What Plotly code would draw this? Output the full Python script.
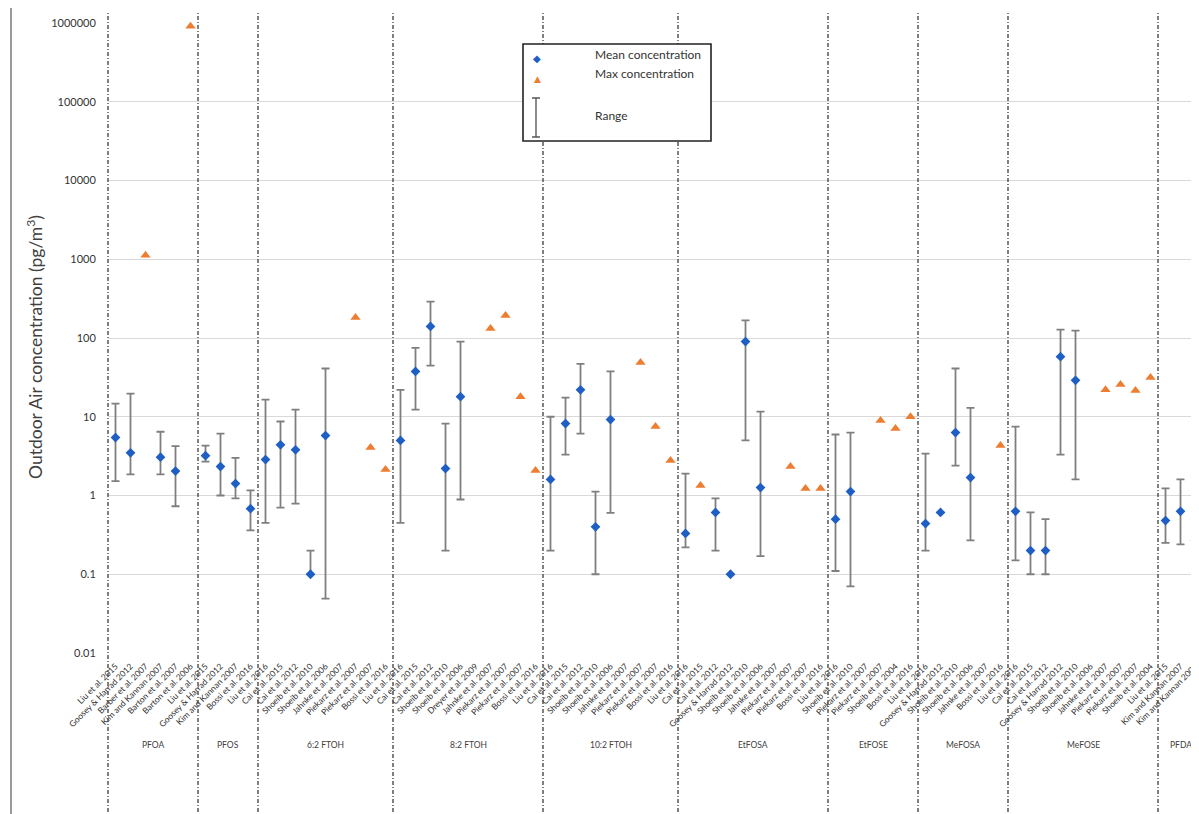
import plotly.graph_objects as go

# ---------------- data ----------------
group_names = ["PFOA", "PFOS", "6:2 FTOH", "8:2 FTOH", "10:2 FTOH",
               "EtFOSA", "EtFOSE", "MeFOSA", "MeFOSE", "PFDA"]
group_sizes = [6, 4, 9, 10, 9, 10, 6, 6, 10, 3]

study_labels = [
    # PFOA
    "Liu et al. 2015", "Goosey & Harrad 2012", "Barber et al. 2007", "Kim and Kannan 2007",
    "Barton et al. 2007", "Barton et al. 2006",
    # PFOS
    "Liu et al. 2015", "Goosey & Harrad 2012", "Kim and Kannan 2007", "Bossi et al. 2016",
    # 6:2 FTOH
    "Liu et al. 2016", "Cai et al. 2015", "Cai et al. 2012", "Shoeib et al. 2010", "Shoeib et al. 2006",
    "Jahnke et al. 2007", "Piekarz et al. 2007", "Piekarz et al. 2007", "Bossi et al. 2016",
    # 8:2 FTOH
    "Liu et al. 2016", "Cai et al. 2015", "Cai et al. 2012", "Shoeib et al. 2010", "Shoeib et al. 2006",
    "Dreyer et al. 2009", "Jahnke et al. 2007", "Piekarz et al. 2007", "Piekarz et al. 2007", "Bossi et al. 2016",
    # 10:2 FTOH
    "Liu et al. 2016", "Cai et al. 2015", "Cai et al. 2012", "Shoeib et al. 2010", "Shoeib et al. 2006",
    "Jahnke et al. 2007", "Piekarz et al. 2007", "Piekarz et al. 2007", "Bossi et al. 2016",
    # EtFOSA
    "Liu et al. 2016", "Cai et al. 2015", "Cai et al. 2012", "Goosey & Harrad 2012", "Shoeib et al. 2010",
    "Shoeib et al. 2006", "Jahnke et al. 2007", "Piekarz et al. 2007", "Piekarz et al. 2007", "Bossi et al. 2016",
    # EtFOSE
    "Liu et al. 2016", "Shoeib et al. 2010", "Piekarz et al. 2007", "Piekarz et al. 2007",
    "Shoeib et al. 2004", "Bossi et al. 2016",
    # MeFOSA
    "Liu et al. 2016", "Goosey & Harrad 2012", "Shoeib et al. 2010", "Shoeib et al. 2006",
    "Jahnke et al. 2007", "Bossi et al. 2016",
    # MeFOSE
    "Liu et al. 2016", "Cai et al. 2015", "Cai et al. 2012", "Goosey & Harrad 2012", "Shoeib et al. 2010",
    "Shoeib et al. 2006", "Jahnke et al. 2007", "Piekarz et al. 2007", "Piekarz et al. 2007", "Shoeib et al. 2004",
    # PFDA
    "Liu et al. 2015", "Kim and Kannan 2007", "Kim and Kannan 2007",
]

N = None
mean_conc = [
    5.45, 3.48, N, 3.07, 2.04, N,                      # PFOA
    3.2, 2.33, 1.42, 0.68,                             # PFOS
    2.86, 4.4, 3.8, 0.1, 5.77, N, N, N, N,             # 6:2 FTOH
    5.0, 37.6, 140, 2.2, 18, N, N, N, N, N,            # 8:2 FTOH
    1.6, 8.2, 22, 0.4, 9.2, N, N, N, N,                # 10:2 FTOH
    0.33, N, 0.61, 0.1, 90, 1.26, N, N, N, N,          # EtFOSA
    0.5, 1.12, N, N, N, N,                             # EtFOSE
    0.44, 0.61, 6.3, 1.69, N, N,                       # MeFOSA
    0.63, 0.2, 0.2, 58, 29, N, N, N, N, N,             # MeFOSE
    0.48, 0.63, 0.27,                                  # PFDA
]
range_low = [
    1.52, 1.85, N, 1.85, 0.73, N,
    2.7, 1.0, 0.92, 0.36,
    0.45, 0.70, 0.79, 0.1, 0.049, N, N, N, N,
    0.45, 12.3, 44.6, 0.2, 0.89, N, N, N, N, N,
    0.2, 3.3, 6.1, 0.1, 0.6, N, N, N, N,
    0.22, N, 0.2, N, 5.0, 0.17, N, N, N, N,
    0.11, 0.07, N, N, N, N,
    0.2, N, 2.4, 0.27, N, N,
    0.15, 0.1, 0.1, 3.3, 1.6, N, N, N, N, N,
    0.25, 0.24, 0.13,
]
range_high = [
    14.7, 19.7, N, 6.45, 4.23, N,
    4.3, 6.1, 3.0, 1.16,
    16.5, 8.7, 12.3, 0.2, 41, N, N, N, N,
    22, 75, 290, 8.2, 90, N, N, N, N, N,
    10, 17.5, 47, 1.12, 37.6, N, N, N, N,
    1.9, N, 0.92, N, 167, 11.6, N, N, N, N,
    5.95, 6.3, N, N, N, N,
    3.4, N, 41, 13, N, N,
    7.5, 0.61, 0.5, 128, 124, N, N, N, N, N,
    1.23, 1.6, 0.51,
]
max_conc = [
    N, N, 1120, N, N, 910000,
    N, N, N, N,
    N, N, N, N, N, N, 182, 4.06, 2.14,
    N, N, N, N, N, N, 132, 193, 18, 2.08,
    N, N, N, N, N, N, 49, 7.5, 2.78,
    N, 1.34, N, N, N, N, N, 2.33, 1.23, 1.23,
    N, N, N, 8.95, 7.1, 10,
    N, N, N, N, N, 4.3,
    N, N, N, N, N, N, 22, 25.6, 21.6, 31.5,
    N, N, N,
]
y_tick_vals = [0.01, 0.1, 1, 10, 100, 1000, 10000, 100000, 1000000]
y_tick_text = ["0.01", "0.1", "1", "10", "100", "1000", "10000", "100000", "1000000"]

# ---------------- layout geometry ----------------
# the page body adds an 8px offset, so the figure is drawn 8px smaller
OFF = 8
W, H = 1199 - OFF, 814 - OFF
ML, MR, MT = 108 - OFF, 0, 23 - OFF
MB = H - (653 - OFF)
PW, PH = W - ML - MR, H - MT - MB
XR = [-0.5, -0.5 + PW / 15.0]


def px(xp):
    """reference-window x pixel -> paper fraction"""
    return (xp - OFF - ML) / PW


def py(yp):
    """reference-window y pixel -> paper fraction"""
    return (H - MB - (yp - OFF)) / PH


def slot_to_paper(s):
    return (s - XR[0]) / (XR[1] - XR[0])


xs = list(range(len(study_labels)))
nan = float("nan")
err_plus = [(h - m) if (m is not None and h is not None) else nan for m, h in zip(mean_conc, range_high)]
err_minus = [(m - l) if (m is not None and l is not None) else nan for m, l in zip(mean_conc, range_low)]

FONT = "Lato, 'Open Sans', sans-serif"
BLUE = "#1F5FC4"
ORANGE = "#ED7D31"
GREY = "#7F7F7F"

fig = go.Figure()
fig.add_trace(go.Scatter(
    x=xs, y=mean_conc, mode="markers", name="Mean concentration",
    marker=dict(symbol="diamond", size=7.5, color=BLUE),
    error_y=dict(type="data", symmetric=False, array=err_plus, arrayminus=err_minus,
                 color=GREY, thickness=1.8, width=4),
    showlegend=False, cliponaxis=True,
))
fig.add_trace(go.Scatter(
    x=xs, y=max_conc, mode="markers", name="Max concentration",
    marker=dict(symbol="triangle-up", size=9, color=ORANGE),
    showlegend=False, cliponaxis=False,
))

shapes = []
annotations = []

# outer frame
shapes.append(dict(type="rect", xref="paper", yref="paper",
                   x0=px(11), x1=px(1260), y0=py(880), y1=py(5),
                   line=dict(color="#9a9a9a", width=2), fillcolor="rgba(0,0,0,0)", layer="below"))

# group separators + group names
start = 0
bounds = [0]
for size in group_sizes:
    start += size
    bounds.append(start)
for b in bounds[:-1]:
    xp = slot_to_paper(b - 0.5)
    shapes.append(dict(type="line", xref="paper", yref="paper", x0=xp, x1=xp,
                       y0=py(830), y1=py(12),
                       line=dict(color="#4a4a4a", width=1.4, dash="4px,2px,1px,2px")))
for name, b0, b1 in zip(group_names, bounds[:-1], bounds[1:]):
    annotations.append(dict(x=(b0 + b1 - 1) / 2.0, y=py(752), xref="x", yref="paper",
                            text=name, showarrow=False,
                            font=dict(family=FONT, size=8.5, color="#404040")))

# y title
annotations.append(dict(x=px(35), y=py(347), xref="paper", yref="paper",
                        xanchor="center", yanchor="middle",
                        text="Outdoor Air concentration (pg/m<sup>3</sup>)", textangle=-90,
                        showarrow=False, font=dict(family=FONT, size=17.5, color="#404040")))

# custom legend
shapes.append(dict(type="rect", xref="paper", yref="paper",
                   x0=px(523), x1=px(711), y0=py(141), y1=py(44),
                   line=dict(color="#222222", width=1.6), fillcolor="white", layer="above"))
annotations.append(dict(x=px(537), y=py(58), xref="paper", yref="paper", text="\u25C6",
                        xanchor="center", yanchor="middle",
                        showarrow=False, font=dict(family="DejaVu Sans", size=10, color=BLUE)))
annotations.append(dict(x=px(537), y=py(79), xref="paper", yref="paper", text="\u25B2",
                        xanchor="center", yanchor="middle",
                        showarrow=False, font=dict(family="DejaVu Sans", size=9, color=ORANGE)))
shapes.append(dict(type="line", xref="paper", yref="paper", x0=px(536), x1=px(536),
                   y0=py(137), y1=py(98), line=dict(color=GREY, width=1.8)))
for yy in (98, 137):
    shapes.append(dict(type="line", xref="paper", yref="paper", x0=px(532), x1=px(540),
                       y0=py(yy), y1=py(yy), line=dict(color="#555555", width=1.5)))
for txt, yy in (("Mean concentration", 54), ("Max concentration", 73), ("Range", 115)):
    annotations.append(dict(x=px(593), y=py(yy), xref="paper", yref="paper", text=txt,
                            xanchor="left", yanchor="middle", showarrow=False,
                            font=dict(family=FONT, size=12, color="#333333")))

fig.update_layout(
    template="none",
    width=W, height=H,
    margin=dict(l=ML, r=MR, t=MT, b=MB, pad=0),
    paper_bgcolor="white", plot_bgcolor="white",
    showlegend=False,
    shapes=shapes, annotations=annotations,
    font=dict(family=FONT, color="#404040"),
)
fig.update_xaxes(
    range=XR, tickmode="array", tickvals=xs, ticktext=study_labels,
    tickangle=-45, tickfont=dict(family=FONT, size=8.5, color="#2f2f2f"),
    ticklabeloverflow="allow",
    ticks="outside", ticklen=4, tickcolor="rgba(0,0,0,0)",
    showgrid=False, zeroline=False, showline=False, automargin=False,
)
fig.update_yaxes(
    type="log", range=[-2, 6], tickmode="array", tickvals=y_tick_vals, ticktext=y_tick_text,
    tickfont=dict(family=FONT, size=11, color="#333333"),
    showgrid=True, gridcolor="#D9D9D9", gridwidth=1, zeroline=False, showline=False,
    ticks="outside", ticklen=9, tickcolor="rgba(0,0,0,0)", automargin=False,
)

fig.write_html("out.html")
